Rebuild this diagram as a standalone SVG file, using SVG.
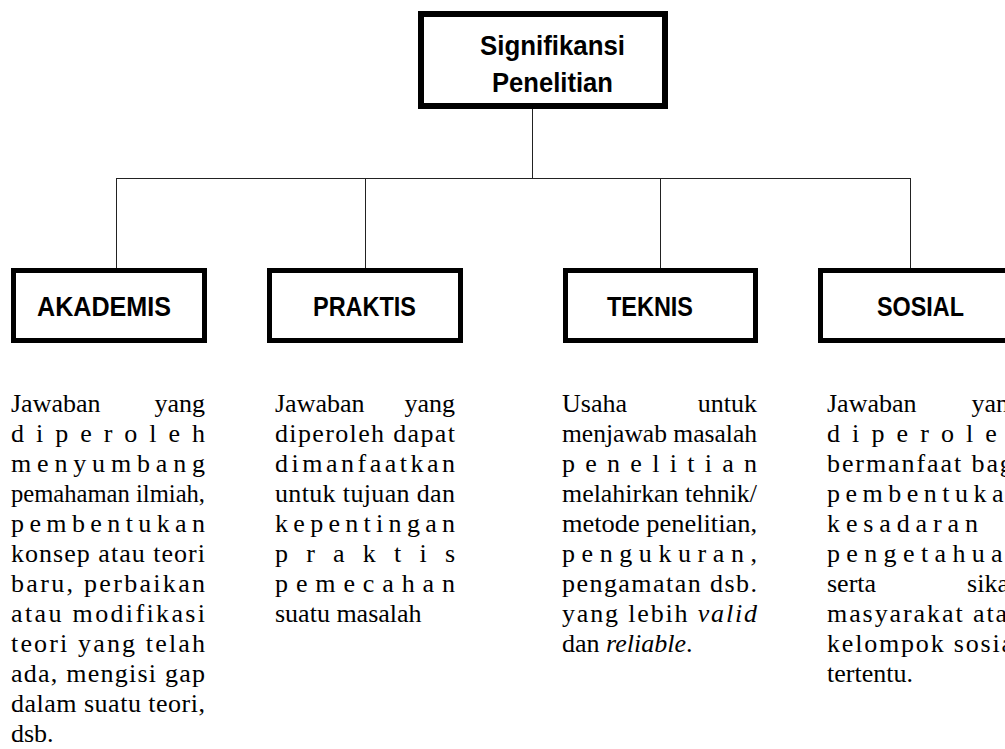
<svg xmlns="http://www.w3.org/2000/svg" width="1005" height="749" viewBox="0 0 1005 749">
<style>
.box{fill:#fff;stroke:#000;stroke-width:5}
.lbl{font-family:"Liberation Sans",Arial,sans-serif;font-weight:bold;font-size:27px;fill:#000}
.body{font-family:"Liberation Serif","Times New Roman",serif;font-size:26px;fill:#000}
.conn{stroke:#222;stroke-width:1;fill:none}
</style>
<rect width="1005" height="749" fill="#fff"/>
<g id="connectors">
<path class="conn" d="M532.5 109V178.5M116.5 178.5H910.5M116.5 178V268M365.5 178V268M660.5 178V268M910.5 178V268"/>
</g>
<g id="node-root">
<rect class="box" x="421" y="14" width="244" height="92" style="stroke-width:6"/>
<text class="lbl" x="480" y="55" textLength="145" lengthAdjust="spacingAndGlyphs">Signifikansi</text>
<text class="lbl" x="492" y="92" textLength="121" lengthAdjust="spacingAndGlyphs">Penelitian</text>
</g>
<g id="node-akademis">
<rect class="box" x="13.5" y="270.5" width="191" height="70"/>
<text class="lbl" x="37" y="316" textLength="134" lengthAdjust="spacingAndGlyphs">AKADEMIS</text>
</g>
<g id="node-praktis">
<rect class="box" x="269.5" y="270.5" width="191" height="70"/>
<text class="lbl" x="313" y="316" textLength="103" lengthAdjust="spacingAndGlyphs">PRAKTIS</text>
</g>
<g id="node-teknis">
<rect class="box" x="565.5" y="270.5" width="190" height="70"/>
<text class="lbl" x="607" y="316" textLength="86" lengthAdjust="spacingAndGlyphs">TEKNIS</text>
</g>
<g id="node-sosial">
<rect class="box" x="820.5" y="270.5" width="191" height="70"/>
<text class="lbl" x="877" y="316" textLength="87" lengthAdjust="spacingAndGlyphs">SOSIAL</text>
</g>
<g id="desc-akademis" class="body">
<text x="11" y="412">Jawaban</text><text x="205" y="412" text-anchor="end">yang</text>
<text x="11" y="442" textLength="194" lengthAdjust="spacing">diperoleh</text>
<text x="11" y="472" textLength="194" lengthAdjust="spacing">menyumbang</text>
<text x="11" y="502" textLength="194" lengthAdjust="spacingAndGlyphs">pemahaman ilmiah,</text>
<text x="11" y="532" textLength="194" lengthAdjust="spacing">pembentukan</text>
<text x="11" y="562" textLength="194" lengthAdjust="spacing">konsep atau teori</text>
<text x="11" y="592" textLength="194" lengthAdjust="spacing">baru, perbaikan</text>
<text x="11" y="622" textLength="194" lengthAdjust="spacing">atau modifikasi</text>
<text x="11" y="652" textLength="194" lengthAdjust="spacing">teori yang telah</text>
<text x="11" y="682" textLength="194" lengthAdjust="spacing">ada, mengisi gap</text>
<text x="11" y="712" textLength="194" lengthAdjust="spacing">dalam suatu teori,</text>
<text x="11" y="742">dsb.</text>
</g>
<g id="desc-praktis" class="body">
<text x="275" y="412">Jawaban</text><text x="455" y="412" text-anchor="end">yang</text>
<text x="275" y="442" textLength="180" lengthAdjust="spacing">diperoleh dapat</text>
<text x="275" y="472" textLength="180" lengthAdjust="spacing">dimanfaatkan</text>
<text x="275" y="502" textLength="180" lengthAdjust="spacing">untuk tujuan dan</text>
<text x="275" y="532" textLength="180" lengthAdjust="spacing">kepentingan</text>
<text x="275" y="562" textLength="180" lengthAdjust="spacing">praktis</text>
<text x="275" y="592" textLength="180" lengthAdjust="spacing">pemecahan</text>
<text x="275" y="622">suatu masalah</text>
</g>
<g id="desc-teknis" class="body">
<text x="562" y="412">Usaha</text><text x="757" y="412" text-anchor="end">untuk</text>
<text x="562" y="442" textLength="195" lengthAdjust="spacingAndGlyphs">menjawab masalah</text>
<text x="562" y="472" textLength="195" lengthAdjust="spacing">penelitian</text>
<text x="562" y="502" textLength="195" lengthAdjust="spacingAndGlyphs">melahirkan tehnik/</text>
<text x="562" y="532" textLength="195" lengthAdjust="spacingAndGlyphs">metode penelitian,</text>
<text x="562" y="562" textLength="195" lengthAdjust="spacing">pengukuran,</text>
<text x="562" y="592" textLength="195" lengthAdjust="spacing">pengamatan dsb.</text>
<text x="562" y="622" textLength="195" lengthAdjust="spacing">yang lebih <tspan font-style="italic">valid</tspan></text>
<text x="562" y="652">dan <tspan font-style="italic">reliable</tspan>.</text>
</g>
<g id="desc-sosial" class="body">
<text x="827" y="412">Jawaban</text><text x="1022" y="412" text-anchor="end">yang</text>
<text x="827" y="442" textLength="195" lengthAdjust="spacing">diperoleh</text>
<text x="827" y="472" textLength="195" lengthAdjust="spacing">bermanfaat bagi</text>
<text x="827" y="502" textLength="195" lengthAdjust="spacing">pembentukan</text>
<text x="827" y="532" textLength="151" lengthAdjust="spacing">kesadaran</text>
<text x="827" y="562" textLength="195" lengthAdjust="spacing">pengetahuan</text>
<text x="827" y="592">serta</text><text x="1022" y="592" text-anchor="end">sikap</text>
<text x="827" y="622" textLength="195" lengthAdjust="spacing">masyarakat atau</text>
<text x="827" y="652" textLength="195" lengthAdjust="spacing">kelompok sosial</text>
<text x="827" y="682">tertentu.</text>
</g>
</svg>
